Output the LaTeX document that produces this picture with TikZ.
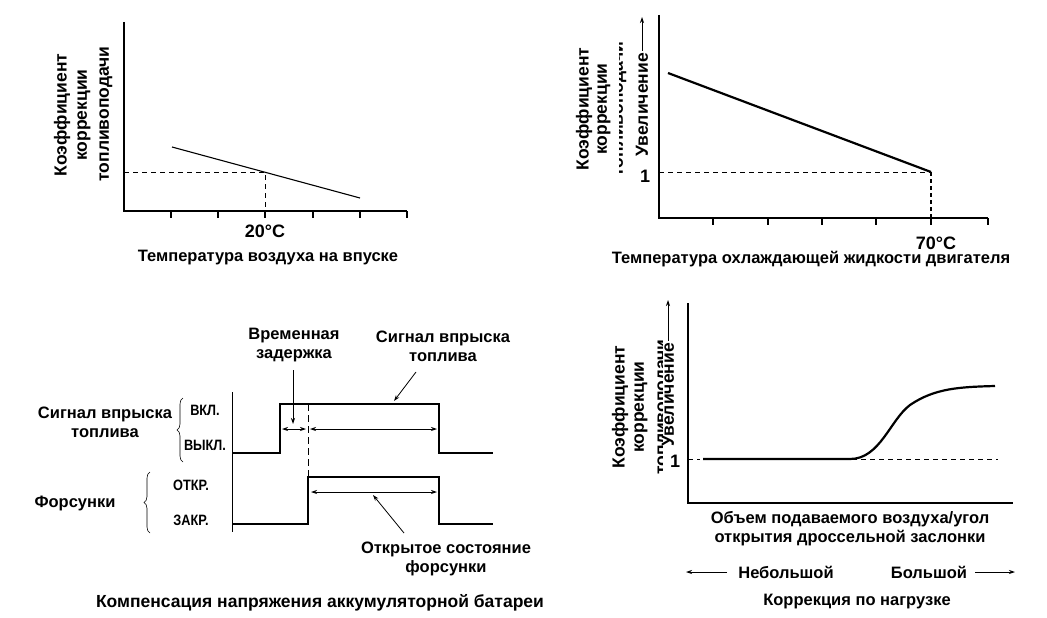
\documentclass[tikz,border=0pt]{standalone}
\usepackage{fontspec}
\setmainfont{Liberation Sans}
\usetikzlibrary{decorations.pathreplacing,arrows.meta}
\begin{document}
\begin{tikzpicture}[x=1pt,y=-1pt,
  lbl/.style={font=\fontsize{16.5}{19}\selectfont\bfseries, inner sep=0pt, align=center},
  rlbl/.style={font=\fontsize{17.5}{19}\selectfont\bfseries, inner sep=0pt, rotate=90},
  sml/.style={font=\fontsize{15}{17}\selectfont\bfseries, inner sep=0pt, xscale=0.85},
  ax/.style={line width=1.1pt},
  dsh/.style={dash pattern=on 5pt off 4pt, line width=0.9pt},
  sig/.style={line width=1.1pt},
  arr/.style={-{Stealth[length=6pt,width=4pt]}, line width=0.8pt},
  darr/.style={{Stealth[length=6pt,width=4pt]}-{Stealth[length=6pt,width=4pt]}, line width=0.8pt}]
\useasboundingbox (0,0) rectangle (1047,618);
% ---------- Panel 1 ----------
\coordinate (a1o) at (124,211);
\coordinate (a1t) at (124,22);
\coordinate (a1r) at (407,211);
\draw[ax] (a1t) -- (a1o) -- (a1r);
\foreach \x in {171,218,265,313,360,407} \draw[ax] (\x,211) -- (\x,218);
\coordinate (l1a) at (172,147); \coordinate (l1b) at (360,198); \coordinate (p1) at (265,172);
\draw[line width=1.1pt] (l1a) -- (l1b);
\draw[dsh] (124,172) -- (p1) -- (265,211);
\node[lbl,font=\fontsize{18}{19}\selectfont\bfseries] (t20) at (265,231) {20°C};
\node[lbl] (tit1) at (268,258) {Температура воздуха на впуске};
\node[rlbl] (y1a) at (62,115) {Коэффициент};
\node[rlbl] (y1b) at (84,115) {коррекции};
\node[rlbl] (y1c) at (106,114) {топливоподачи};
% ---------- Panel 2 ----------
\coordinate (a2o) at (659,218);
\draw[ax] (659,15) -- (a2o) -- (988,218);
\foreach \x in {713,768,822,876,931,988} \draw[ax] (\x,218) -- (\x,225);
\coordinate (l2a) at (668,73); \coordinate (l2b) at (931,172);
\draw[line width=2.2pt] (l2a) -- (l2b);
\draw[dsh] (659,172) -- (l2b);
\draw[dash pattern=on 4pt off 3pt, line width=2pt] (l2b) -- (931,218);
\node[lbl,font=\fontsize{18}{19}\selectfont\bfseries] (one2) at (645,176) {1};
\node[lbl,font=\fontsize{18}{19}\selectfont\bfseries] (t70) at (936,243) {70°C};
\node[lbl] (tit2) at (811,259) {Температура охлаждающей жидкости двигателя};
\node[rlbl] (y2a) at (584,109) {Коэффициент};
\node[rlbl] (y2b) at (604,109) {коррекции};
\begin{scope}
\clip (619,0) rectangle (634,300);
\node[rlbl] (y2c) at (620,109) {топливоподачи};
\end{scope}
\node[rlbl,anchor=east] (y2d) at (642,53) {Увеличение};
\coordinate (u2a) at (642,51); \coordinate (u2b) at (642,17);
\draw[arr] (u2a) -- (u2b);
% ---------- Panel 3 ----------
\draw[line width=0.9pt] (232,392) -- (232,532);
\draw[sig] (232,453) -- (280,453) -- (280,404) -- (439,404) -- (439,453) -- (493,453);
\draw[sig] (232,524) -- (308,524) -- (308,477) -- (439,477) -- (439,524) -- (493,524);
\draw[dash pattern=on 7pt off 4pt, line width=0.8pt] (308,404) -- (308,477);
\coordinate (d1a) at (282,429); \coordinate (d1b) at (306,429);
\coordinate (d2a) at (310,429); \coordinate (d2b) at (437,429);
\coordinate (d3a) at (311,492); \coordinate (d3b) at (437,492);
\draw[darr] (d1a) -- (d1b);
\draw[darr] (d2a) -- (d2b);
\draw[darr] (d3a) -- (d3b);
\node[lbl] (vz) at (294,345) {Временная\\задержка};
\draw[arr] (293,370) -- (293,424);
\node[lbl] (sv) at (443,346) {Сигнал впрыска\\топлива};
\draw[arr] (416,372) -- (394,401);
\node[lbl] (os) at (446,559) {Открытое состояние\\форсунки};
\draw[arr] (404,533) -- (373,495);
\node[lbl] (sv2) at (105,422) {Сигнал впрыска\\топлива};
\draw[line width=0.6pt, decorate, decoration={brace, amplitude=6pt}] (183,462) -- (183,398);
\node[sml] (on) at (205,410) {ВКЛ.};
\node[sml] (off) at (205,445) {ВЫКЛ.};
\node[lbl] (fors) at (75,503) {Форсунки};
\draw[line width=0.6pt, decorate, decoration={brace, amplitude=6pt}] (150,533) -- (150,472);
\node[sml] (opn) at (191,485) {ОТКР.};
\node[sml] (cls) at (191,520) {ЗАКР.};
\node[lbl,font=\fontsize{17.5}{19}\selectfont\bfseries] (tit3) at (320,603) {Компенсация напряжения аккумуляторной батареи};
% ---------- Panel 4 ----------
\draw[ax] (688,303) -- (688,503) -- (1013,503);
\draw[line width=2.2pt] (703,459) -- (850,459) .. controls (880,459) and (890,420) .. (910,405) .. controls (935,388) and (960,387) .. (995,386);
\draw[dsh] (688,459) -- (700,459);
\draw[dsh] (852,459) -- (998,459);
\node[lbl,font=\fontsize{18}{19}\selectfont\bfseries] (one4) at (675,461) {1};
\node[rlbl] (y4a) at (620,407) {Коэффициент};
\node[rlbl] (y4b) at (641,407) {коррекции};
\begin{scope}
\clip (650,300) rectangle (662,480);
\node[rlbl] (y4c) at (664,407) {топливоподачи};
\end{scope}
\node[rlbl,anchor=east] (y4d) at (668,343) {Увеличение};
\draw[arr] (668,341) -- (668,300);
\node[lbl] (ob) at (850,529) {Объем подаваемого воздуха/угол\\открытия дроссельной заслонки};
\node[lbl] (nb) at (786,572) {Небольшой};
\node[lbl] (bl) at (929,572) {Большой};
\draw[arr] (727,572) -- (686,572);
\draw[arr] (975,572) -- (1015,572);
\node[lbl] (tit4) at (857,602) {Коррекция по нагрузке};
\end{tikzpicture}
\end{document}
